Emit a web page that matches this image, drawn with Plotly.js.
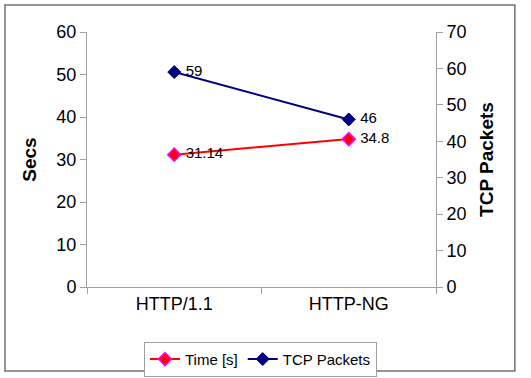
<!DOCTYPE html>
<html>
<head>
<meta charset="utf-8">
<script src="https://cdn.plot.ly/plotly-3.0.1.min.js"></script>
<style>
html,body{margin:0;padding:0;background:#fff;}
#chart{width:531px;height:378px;}
</style>
</head>
<body>
<div id="chart"></div>
<script>
var categories = ["HTTP/1.1", "HTTP-NG"];
var timeSecs = [31.14, 34.8];
var tcpPackets = [59, 46];
var timeLabels = ["31.14", "34.8"];
var tcpLabels = ["59", "46"];
var leftTicks = [0, 10, 20, 30, 40, 50, 60];
var rightTicks = [0, 10, 20, 30, 40, 50, 60, 70];

var FONT = "Liberation Sans, Arial, sans-serif";
var AXC = "#a0a0a0";

var traces = [
  {
    x: categories, y: timeSecs, name: "Time [s]", type: "scatter",
    mode: "lines+markers+text", text: timeLabels.map(function(s){return " " + s;}), textposition: "middle right",
    textfont: {family: FONT, size: 15, color: "#000"},
    line: {color: "#ff0000", width: 2},
    marker: {symbol: "diamond", size: 10, color: "#ff0000", line: {color: "#ff00ff", width: 1.5}},
    yaxis: "y", cliponaxis: false
  },
  {
    x: categories, y: tcpPackets, name: "TCP Packets", type: "scatter",
    mode: "lines+markers+text", text: tcpLabels.map(function(s){return " " + s;}), textposition: "middle right",
    textfont: {family: FONT, size: 15, color: "#000"},
    line: {color: "#000080", width: 2},
    marker: {symbol: "diamond", size: 10, color: "#000080", line: {color: "#000080", width: 1}},
    yaxis: "y2", cliponaxis: false
  }
];

var layout = {
  width: 531, height: 378,
  margin: {l: 87, r: 95, t: 32, b: 91, pad: 0, autoexpand: false},
  paper_bgcolor: "#fff", plot_bgcolor: "#fff",
  font: {family: FONT, size: 18, color: "#000"},
  showlegend: true,
  legend: {
    orientation: "h", x: 0.497, xanchor: "center", y: -0.215, yanchor: "top",
    bordercolor: "#a0a0a0", borderwidth: 1, bgcolor: "#fff",
    font: {family: FONT, size: 15, color: "#000"},
    itemwidth: 30, tracegroupgap: 0
  },
  xaxis: {
    type: "category", range: [-0.5, 1.5], tickson: "boundaries",
    showline: true, linecolor: AXC, linewidth: 1,
    ticks: "outside", ticklen: 6, tickcolor: AXC,
    showgrid: false, zeroline: false, automargin: false,
    tickfont: {family: FONT, size: 18, color: "#000"}
  },
  yaxis: {
    range: [0, 60], tickvals: leftTicks, ticktext: leftTicks.map(String),
    showline: true, linecolor: AXC, linewidth: 1,
    ticks: "outside", ticklen: 6, tickcolor: AXC,
    showgrid: false, zeroline: false, automargin: false,
    tickfont: {family: FONT, size: 18, color: "#000"},
    title: {text: "<b>Secs</b>", font: {family: FONT, size: 19, color: "#000"}, standoff: 14}
  },
  yaxis2: {
    range: [0, 70], tickvals: rightTicks, ticktext: rightTicks.map(String),
    overlaying: "y", side: "right",
    showline: true, linecolor: AXC, linewidth: 1,
    ticks: "outside", ticklen: 6, tickcolor: AXC,
    showgrid: false, zeroline: false, automargin: false,
    tickfont: {family: FONT, size: 18, color: "#000"},
    title: {text: "<b>TCP Packets</b>", font: {family: FONT, size: 19, color: "#000"}, standoff: 14}
  },
  shapes: [
    {type: "rect", xref: "paper", yref: "paper",
     x0: -0.235, x1: 1.226, y0: -0.329, y1: 1.106,
     line: {color: "#707070", width: 1.5}, fillcolor: "rgba(0,0,0,0)", layer: "below"}
  ]
};

Plotly.newPlot("chart", traces, layout, {staticPlot: true, displayModeBar: false});
</script>
</body>
</html>
